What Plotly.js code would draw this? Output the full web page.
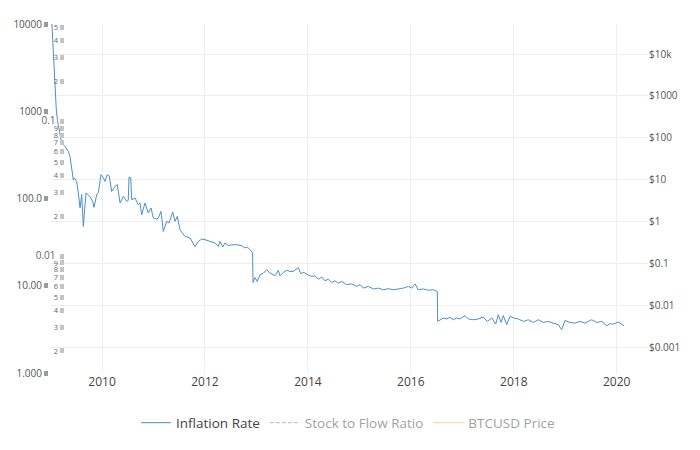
<!DOCTYPE html>
<html>
<head>
<meta charset="utf-8">
<script src="https://cdn.plot.ly/plotly-3.0.1.min.js"></script>
<style>html,body{margin:0;padding:0;background:#fff}#chart{width:700px;height:450px}</style>
</head>
<body>
<div id="chart"></div>
<script>
// Decimal years (x) and inflation rate in percent (y)
const years = [
  2009.025, 2009.048, 2009.067, 2009.087, 2009.112, 2009.135, 2009.184, 2009.217, 2009.281, 2009.345,
  2009.378, 2009.411, 2009.442, 2009.462, 2009.508, 2009.540, 2009.573, 2009.606, 2009.637, 2009.689,
  2009.734, 2009.767, 2009.819, 2009.845, 2009.897, 2009.928, 2009.981, 2010.025, 2010.058, 2010.103,
  2010.142, 2010.188, 2010.253, 2010.297, 2010.350, 2010.414, 2010.480, 2010.510, 2010.525, 2010.558,
  2010.577, 2010.641, 2010.705, 2010.738, 2010.771, 2010.835, 2010.900, 2010.952, 2010.997, 2011.063,
  2011.094, 2011.146, 2011.191, 2011.257, 2011.302, 2011.374, 2011.418, 2011.463, 2011.515, 2011.613,
  2011.710, 2011.807, 2011.871, 2011.937, 2012.001, 2012.065, 2012.131, 2012.195, 2012.260, 2012.293,
  2012.345, 2012.390, 2012.454, 2012.520, 2012.617, 2012.714, 2012.778, 2012.823, 2012.875, 2012.908,
  2012.925,
  2012.935, 2012.973, 2013.017, 2013.070, 2013.134, 2013.200, 2013.250, 2013.297, 2013.361, 2013.425,
  2013.458, 2013.522, 2013.589, 2013.653, 2013.717, 2013.763, 2013.814, 2013.861, 2013.925, 2013.989,
  2014.074, 2014.138, 2014.202, 2014.269, 2014.333, 2014.397, 2014.463, 2014.527, 2014.591, 2014.657,
  2014.754, 2014.851, 2014.949, 2015.013, 2015.077, 2015.174, 2015.271, 2015.368, 2015.465, 2015.563,
  2015.660, 2015.757, 2015.854, 2015.951, 2016.017, 2016.081, 2016.145, 2016.242, 2016.340, 2016.437,
  2016.503, 2016.515,
  2016.522, 2016.567, 2016.631, 2016.697, 2016.761, 2016.825, 2016.891, 2016.956, 2017.053, 2017.117,
  2017.214, 2017.311, 2017.408, 2017.486, 2017.571, 2017.649, 2017.700, 2017.752, 2017.797, 2017.863,
  2017.927, 2017.999, 2018.088, 2018.185, 2018.283, 2018.380, 2018.477, 2018.574, 2018.671, 2018.768,
  2018.865, 2018.931, 2018.995, 2019.093, 2019.190, 2019.287, 2019.384, 2019.514, 2019.611, 2019.709,
  2019.806, 2019.870, 2019.934, 2020.031, 2020.142
];
const inflationRate = [
  10500, 5080, 2840, 1675, 1042, 780, 515, 433, 395, 347,
  304, 214, 164, 172, 157, 116, 77.8, 111, 47.9, 116,
  111, 105, 92.7, 79.1, 111, 116.5, 187.5, 173, 157, 187.5,
  180, 120.5, 137.7, 144, 88.8, 105.7, 92.7, 95, 176, 173,
  96.9, 101.4, 84.9, 88.8, 65.2, 88.8, 68.2, 77.8, 59.8, 58.2,
  59.8, 71.1, 42.0, 54.7, 52.4, 70.0, 54.7, 62.4, 43.9, 36.8,
  35.3, 28.2, 32.2, 34.3, 33.7, 32.8, 32.2, 30.9, 28.2, 32.2,
  27.8, 30.9, 28.8, 29.5, 29.5, 28.8, 27.1, 27.8, 25.9, 24.8,
  23.9,
  10.9, 12.4, 11.2, 13.4, 13.9, 15.3, 14.2, 13.6, 13.0, 15.0,
  13.0, 14.2, 15.0, 14.6, 14.6, 15.3, 16.2, 13.8, 14.2, 13.4,
  12.8, 13.0, 11.9, 12.6, 11.4, 11.9, 10.9, 11.4, 10.7, 11.2,
  10.3, 10.5, 9.83, 10.3, 9.4, 9.83, 9.18, 9.4, 9.0, 9.25,
  9.0, 9.18, 9.4, 9.83, 9.4, 10.5, 9.0, 9.18, 8.9, 9.0,
  8.66, 8.55,
  3.90, 4.08, 4.27, 4.16, 4.34, 4.08, 4.27, 4.16, 4.54, 4.16,
  4.08, 4.16, 4.38, 3.90, 4.27, 3.64, 4.66, 3.80, 4.54, 3.58,
  4.46, 4.27, 4.16, 3.90, 4.08, 3.80, 4.08, 3.80, 3.90, 3.73,
  3.58, 3.13, 4.0, 3.80, 3.73, 3.90, 3.73, 4.08, 3.80, 3.90,
  3.48, 3.67, 3.64, 3.84, 3.48
];
// Hidden (legend-only) series: their values are not visible in the reference,
// so they hold a single empty slot that only keeps their legend entries.
const s2fYears = [null];
const s2fRatio = [null];
const priceYears = [null];
const btcPrice = [null];

const seriesNames = ['Inflation Rate', 'Stock to Flow Ratio', 'BTCUSD Price'];

const traces = [
  {x: years, y: inflationRate, name: seriesNames[0], type: 'scatter', mode: 'lines',
   line: {color: '#4a90c9', width: 1}, yaxis: 'y'},
  {x: s2fYears, y: s2fRatio, name: seriesNames[1], type: 'scatter', mode: 'lines',
   line: {color: '#777777', width: 1, dash: '4px,2px'}, yaxis: 'y2', visible: 'legendonly', showlegend: true},
  {x: priceYears, y: btcPrice, name: seriesNames[2], type: 'scatter', mode: 'lines',
   line: {color: '#f5a94a', width: 1}, yaxis: 'y3', visible: 'legendonly', showlegend: true}
];

const layout = {
  width: 700, height: 450,
  margin: {l: 48, r: 52, t: 24, b: 77},
  paper_bgcolor: '#fff', plot_bgcolor: '#fff',
  font: {family: '"Open Sans", verdana, arial, sans-serif', color: '#444', size: 12},
  showlegend: true,
  legend: {orientation: 'h', x: 0.5, xanchor: 'center', y: -0.143, yanchor: 'middle',
           font: {size: 13.5, color: '#444'}},
  xaxis: {domain: [0.005, 1], range: [2009.009, 2020.608], tick0: 2010, dtick: 2,
          showgrid: true, gridcolor: '#eee', zeroline: false, ticks: '',
          tickfont: {size: 12, color: '#444'}},
  yaxis: {type: 'log', range: [0, 4], dtick: 1, tickformat: '.4r', anchor: 'free', position: 0,
          side: 'left', showgrid: false, zeroline: false, ticks: 'outside', ticklen: 4, tickwidth: 5,
          tickcolor: '#999', tickfont: {size: 10, color: '#555'}},
  yaxis2: {type: 'log', range: [-2.863, -0.273], dtick: 'D1', overlaying: 'y', anchor: 'free',
           position: 0.0267, side: 'left', showgrid: false, zeroline: false, ticks: 'outside',
           ticklen: 4, tickwidth: 5, tickcolor: '#c4c4c4', tickfont: {size: 10, color: '#666'}},
  yaxis3: {type: 'log', range: [-3.613, 4.716], dtick: 1, overlaying: 'y', anchor: 'x', side: 'right',
           tickprefix: '$', showgrid: true, gridcolor: '#eee', zeroline: false, ticks: '',
           tickfont: {size: 10, color: '#555'}}
};

Plotly.newPlot('chart', traces, layout, {displayModeBar: false, staticPlot: true});
</script>
</body>
</html>
